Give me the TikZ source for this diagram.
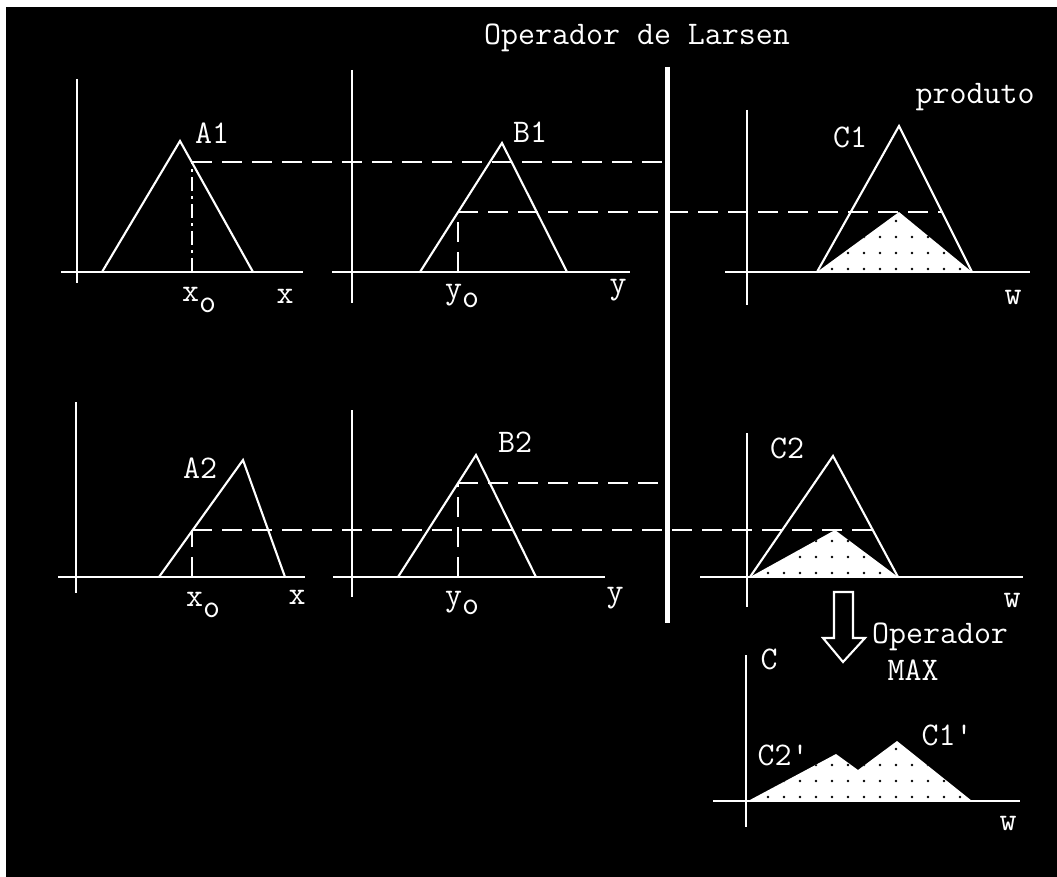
\documentclass[tikz,border=0pt]{standalone}
\usepackage{tikz}
\usetikzlibrary{patterns.meta}

\begin{document}
\begin{tikzpicture}[x=1pt, y=-1pt,
    axis/.style={draw=white, line width=2.1pt},
    curve/.style={draw=white, line width=2.1pt, line join=miter},
    cut/.style={draw=white, line width=2.1pt, dash pattern=on 20pt off 10pt},
    cutdot/.style={draw=white, line width=2.1pt, dash pattern=on 14pt off 5pt on 3pt off 5pt},
    shade/.style={fill=white, postaction={pattern={Dots[distance=16pt, radius=1.4pt]}, pattern color=black}},
    lbl/.style={text=white, font=\fontsize{33}{35}\selectfont\ttfamily, inner sep=0pt},
    operline/.style={draw=white, line width=5pt}
]
    % frame
    \useasboundingbox (0,0) rectangle (1057,877);
    \fill[white] (0,0) rectangle (1057,877);
    \fill[black] (6,7) rectangle (1057,877);

    % Larsen separator
    \coordinate (lartop) at (667,67);
    \coordinate (larbot) at (667,623);
    \draw[operline] (lartop) -- (larbot);
    \node[lbl] (title) at (637,38) {Operador de Larsen};
    \node[lbl] (prod) at (975,97) {produto};

    % Rule 1 : A1
    \draw[axis] (77,79) -- (77,283);
    \draw[axis] (61,272) -- (303,272);
    \draw[curve] (102,272) -- (180,141) -- (253,272);
    \coordinate (a1foot) at (192,272);
    \coordinate (a1cut) at (192,162);
    \coordinate (a1end) at (664,162);
    \draw[cutdot] (a1foot) -- (a1cut);
    \draw[cut] (a1cut) -- (a1end);
    \node[lbl] (a1) at (212,133) {A1};
    \node[lbl] (x1o) at (199,300) {x\raisebox{-11pt}{o}};
    \node[lbl] (x1) at (285,296) {x};

    % Rule 1 : B1
    \draw[axis] (352,70) -- (352,303);
    \draw[axis] (332,272) -- (630,272);
    \draw[curve] (420,272) -- (502,143) -- (567,272);
    \coordinate (b1foot) at (458,272);
    \coordinate (b1cut) at (458,212);
    \coordinate (c1cut) at (942,212);
    \draw[cut] (b1foot) -- (b1cut);
    \draw[cut] (b1cut) -- (c1cut);
    \node[lbl] (b1) at (530,132) {B1};
    \node[lbl] (y1o) at (462,296) {y\raisebox{-9pt}{o}};
    \node[lbl] (y1) at (618,290) {y};

    % Rule 1 : C1
    \path[shade] (817,272) -- (899,212) -- (972,272) -- cycle;
    \draw[axis] (747,110) -- (747,305);
    \draw[axis] (725,272) -- (1030,272);
    \draw[curve] (817,272) -- (899,126) -- (972,272);
    \node[lbl] (c1) at (850,137) {C1};
    \node[lbl] (w1) at (1013,297) {w};

    % Rule 2 : A2
    \draw[axis] (76,402) -- (76,593);
    \draw[axis] (58,577) -- (305,577);
    \draw[curve] (159,577) -- (243,460) -- (285,577);
    \coordinate (a2foot) at (192,577);
    \coordinate (a2cut) at (192,530);
    \coordinate (c2cut) at (872,530);
    \draw[cut] (a2foot) -- (a2cut);
    \draw[cut] (a2cut) -- (c2cut);
    \node[lbl] (a2) at (200,468) {A2};
    \node[lbl] (x2o) at (203,605) {x\raisebox{-11pt}{o}};
    \node[lbl] (x2) at (297,597) {x};

    % Rule 2 : B2
    \draw[axis] (352,410) -- (352,597);
    \draw[axis] (333,577) -- (605,577);
    \draw[curve] (398,577) -- (476,455) -- (536,577);
    \coordinate (b2foot) at (458,577);
    \coordinate (b2cut) at (458,483);
    \coordinate (b2end) at (664,483);
    \draw[cut] (b2foot) -- (b2cut);
    \draw[cut] (b2cut) -- (b2end);
    \node[lbl] (b2) at (515,442) {B2};
    \node[lbl] (y2o) at (462,603) {y\raisebox{-9pt}{o}};
    \node[lbl] (y2) at (615,598) {y};

    % Rule 2 : C2
    \path[shade] (750,577) -- (835,530) -- (898,577) -- cycle;
    \draw[axis] (747,433) -- (747,607);
    \draw[axis] (700,577) -- (1023,577);
    \draw[curve] (750,577) -- (833,456) -- (898,577);
    \node[lbl] (c2) at (787,448) {C2};
    \node[lbl] (w2) at (1012,600) {w};

    % MAX operator
    \draw[white, line width=2.1pt, line join=miter]
        (834,592) -- (853,592) -- (853,638) -- (865,638) -- (843,662)
        -- (823,638) -- (834,638) -- cycle;
    \node[lbl] (opmax) at (940,637) {Operador};
    \node[lbl] (max) at (913,670) {MAX};

    % Result C
    \path[shade] (748,801) -- (836,754) -- (858,770) -- (897,741) -- (972,801) -- cycle;
    \draw[axis] (746,655) -- (746,827);
    \draw[axis] (713,801) -- (1020,801);
    \node[lbl] (c) at (769,659) {C};
    \node[lbl] (c2p) at (783,755) {C2'};
    \node[lbl] (c1p) at (947,735) {C1'};
    \node[lbl] (w3) at (1008,823) {w};

\end{tikzpicture}
\end{document}
